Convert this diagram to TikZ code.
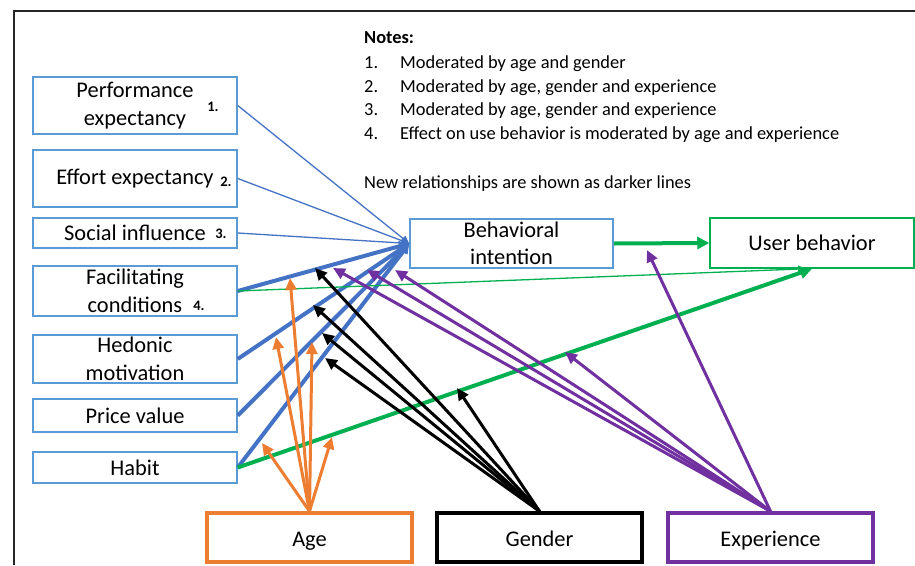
\documentclass[tikz,border=0pt]{standalone}
\usepackage{fontspec}
\setmainfont{Carlito}
\usetikzlibrary{arrows.meta}

\definecolor{boxblue}{HTML}{5B9BD5}
\definecolor{lineblue}{HTML}{4472C4}
\definecolor{usegreen}{HTML}{00B050}
\definecolor{ageorange}{HTML}{ED7D31}
\definecolor{exppurple}{HTML}{7030A0}

\begin{document}
\begin{tikzpicture}[x=1pt,y=-1pt,
  boxfont/.style={font=\fontsize{22.4}{27.5}\selectfont},
  factor/.style={draw=boxblue, line width=1.5pt, minimum width=204pt, inner sep=0pt, align=center, boxfont},
  outcome/.style={draw=usegreen, line width=1.5pt, minimum width=204pt, minimum height=50pt, inner sep=0pt, boxfont, text height=17pt, text depth=2.5pt},
  moderator/.style={line width=3.5pt, minimum width=205pt, minimum height=49pt, inner sep=0pt, boxfont, text height=19pt, text depth=2pt},
  numlabel/.style={font=\bfseries\fontsize{14.5}{15}\selectfont, inner sep=0pt},
  notefont/.style={font=\fontsize{18.4}{22}\selectfont, inner sep=0pt, anchor=base west},
  thinpath/.style={line width=1.3pt, lineblue, -{Triangle[length=8pt,width=7pt]}},
  thickpath/.style={line width=4pt, lineblue, -{Triangle[length=10pt,width=10pt]}},
  usepath/.style={line width=4pt, usegreen, -{Triangle[length=12pt,width=12pt]}},
  modarrow/.style={line width=3pt, -{Triangle[length=12pt,width=11pt]}},
]
\useasboundingbox (0,0) rectangle (915,565);

% outer frame (open to the right and bottom)
\draw[line width=2.2pt, black!85] (14,565) -- (14,11) -- (915,11);

% notes
\node[notefont, font=\bfseries\fontsize{18.4}{22}\selectfont] (notes) at (364,43) {Notes:};
\node[notefont] (k1n) at (364,68) {1.};
\node[notefont] (k1t) at (400,68) {Moderated by age and gender};
\node[notefont] (k2n) at (364,92) {2.};
\node[notefont] (k2t) at (400,92) {Moderated by age, gender and experience};
\node[notefont] (k3n) at (364,115.5) {3.};
\node[notefont] (k3t) at (400,115.5) {Moderated by age, gender and experience};
\node[notefont] (k4n) at (364,139) {4.};
\node[notefont] (k4t) at (400,139) {Effect on use behavior is moderated by age and experience};
\node[notefont] (newrel) at (364,188) {New relationships are shown as darker lines};

% determinants
\node[factor, minimum height=57pt] (pe) at (135,105.5) {Performance\\expectancy};
\node[factor, minimum height=57pt] (ee) at (135,178.5) {Effort expectancy};
\node[factor, minimum height=30pt] (si) at (135,233) {Social influence};
\node[factor, minimum height=50pt] (fc) at (135,291) {Facilitating\\conditions};
\node[factor, minimum height=48pt] (hm) at (135,359) {Hedonic\\motivation};
\node[factor, minimum height=33pt] (pv) at (135,415.5) {Price value};
\node[factor, minimum height=31pt] (hb) at (135,467.5) {Habit};

\node[numlabel] (n1) at (213,107) {1.};
\node[numlabel] (n2) at (226,182) {2.};
\node[numlabel] (n3) at (221,234) {3.};
\node[numlabel] (n4) at (199,306) {4.};

% outcomes
\node[factor, minimum width=203pt, minimum height=49pt] (bi) at (511.5,243.5) {Behavioral\\intention};
\node[outcome] (ub) at (812,243) {User behavior};

% moderators
\node[moderator, draw=ageorange] (age) at (309.5,537.5) {Age};
\node[moderator, draw=black] (gender) at (539.5,537.5) {Gender};
\node[moderator, draw=exppurple] (exp) at (770.5,537.5) {Experience};

% paths into behavioral intention
\draw[thinpath] (pe.east) -- (bi.west);
\draw[thinpath] (ee.east) -- (bi.west);
\draw[thinpath] (si.east) -- (bi.west);
\draw[thickpath] (fc.east) -- (bi.west);
\draw[thickpath] (hm.east) -- (bi.west);
\draw[thickpath] (pv.east) -- (bi.west);
\draw[thickpath] (hb.east) -- (bi.west);

% paths into use behavior
\draw[line width=1.3pt, usegreen, -{Triangle[length=8pt,width=7pt]}] (fc.east) -- ([xshift=-6pt]ub.south);
\draw[usepath] (hb.east) -- (ub.south);
\draw[usepath] (bi.east) -- (ub.west);

% points on the moderated paths
\coordinate (a1) at (290,278);
\coordinate (a2) at (276,337);
\coordinate (a3) at (312,342);
\coordinate (a4) at (262,443);
\coordinate (a5) at (332,437);
\coordinate (g1) at (315,268);
\coordinate (g2) at (313,305);
\coordinate (g3) at (322,333);
\coordinate (g4) at (325,358);
\coordinate (g5) at (457,388);
\coordinate (e1) at (333,268);
\coordinate (e2) at (367,270);
\coordinate (e3) at (395,270);
\coordinate (e4) at (565,352);
\coordinate (e5) at (647,250);

% age
\foreach \t in {a1,a2,a3,a4,a5}
  \draw[modarrow, ageorange] (age.north) -- (\t);
% gender
\foreach \t in {g1,g2,g3,g4,g5}
  \draw[modarrow, black] (gender.north) -- (\t);
% experience
\foreach \t in {e1,e2,e3,e4,e5}
  \draw[modarrow, exppurple] (exp.north) -- (\t);
\end{tikzpicture}
\end{document}
